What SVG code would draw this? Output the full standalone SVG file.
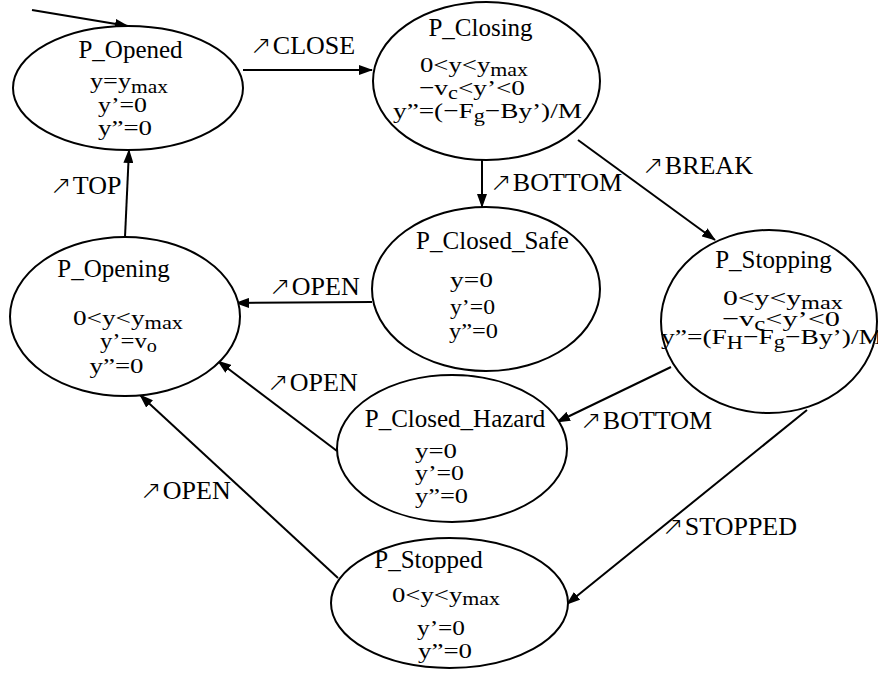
<svg xmlns="http://www.w3.org/2000/svg" width="878" height="673" viewBox="0 0 878 673">
<style>
text { font-family: "Liberation Serif", "Times New Roman", serif; fill: #000; }
.t { font-size: 25px; text-anchor: middle; }
.m { font-size: 22px; text-anchor: middle; }
.s { font-size: 18px; }
.lbl { font-size: 26px; }
.ar { font-family: "DejaVu Sans", sans-serif; font-size: 26px; font-weight: 200; }
ellipse { fill: #fff; stroke: #000; stroke-width: 2; }
#edges line { stroke: #000; stroke-width: 2; marker-end: url(#ah); }
</style>
<defs>
<marker id="ah" viewBox="0 0 14 10" refX="13" refY="5" markerWidth="14" markerHeight="10" markerUnits="userSpaceOnUse" orient="auto">
<path d="M0,0 L14,5 L0,10 z" fill="#000"/>
</marker>
</defs>
<rect width="878" height="673" fill="#fff"/>

<g id="edges">
<line x1="32" y1="10" x2="128" y2="26"/>
<line x1="243" y1="70" x2="372" y2="70"/>
<line x1="482" y1="160" x2="482" y2="207"/>
<line x1="578" y1="140" x2="715" y2="240"/>
<line x1="372" y1="302" x2="236" y2="303"/>
<line x1="125" y1="237" x2="129" y2="150"/>
<line x1="337" y1="451" x2="218" y2="361"/>
<line x1="338" y1="578" x2="140" y2="395"/>
<line x1="671" y1="367" x2="557" y2="422"/>
<line x1="807" y1="410" x2="567" y2="604"/>
<text class="lbl" x="250" y="54"><tspan class="ar">↗</tspan><tspan dx="1">CLOSE</tspan></text>
<text class="lbl" x="490" y="191"><tspan class="ar">↗</tspan><tspan dx="1">BOTTOM</tspan></text>
<text class="lbl" x="642" y="174"><tspan class="ar">↗</tspan><tspan dx="1">BREAK</tspan></text>
<text class="lbl" x="269" y="295"><tspan class="ar">↗</tspan><tspan dx="1">OPEN</tspan></text>
<text class="lbl" x="50" y="194"><tspan class="ar">↗</tspan><tspan dx="1">TOP</tspan></text>
<text class="lbl" x="267" y="391"><tspan class="ar">↗</tspan><tspan dx="1">OPEN</tspan></text>
<text class="lbl" x="140" y="499"><tspan class="ar">↗</tspan><tspan dx="1">OPEN</tspan></text>
<text class="lbl" x="580" y="429"><tspan class="ar">↗</tspan><tspan dx="1">BOTTOM</tspan></text>
<text class="lbl" x="662" y="535"><tspan class="ar">↗</tspan><tspan dx="1">STOPPED</tspan></text>
</g>

<g id="P_Opened">
<ellipse cx="128" cy="88" rx="115" ry="62"/>
<text class="t" x="130.5" y="58">P_Opened</text>
<text class="m" x="129" y="88" textLength="78" lengthAdjust="spacingAndGlyphs">y=y<tspan class="s" dy="5">max</tspan></text>
<text class="m" x="122.5" y="112" textLength="49" lengthAdjust="spacingAndGlyphs">y’=0</text>
<text class="m" x="125" y="135" textLength="54" lengthAdjust="spacingAndGlyphs">y”=0</text>
</g>

<g id="P_Closing">
<ellipse cx="486.5" cy="81" rx="113.5" ry="79"/>
<text class="t" x="480.5" y="36">P_Closing</text>
<text class="m" x="474" y="72" textLength="108" lengthAdjust="spacingAndGlyphs">0&lt;y&lt;y<tspan class="s" dy="4">max</tspan></text>
<text class="m" x="472" y="95" textLength="106" lengthAdjust="spacingAndGlyphs">−v<tspan class="s" dy="4">c</tspan><tspan dy="-4">&lt;y’&lt;0</tspan></text>
<text class="m" x="487.5" y="118" textLength="189" lengthAdjust="spacingAndGlyphs">y”=(−F<tspan class="s" dy="4">g</tspan><tspan dy="-4">−By’)/M</tspan></text>
</g>

<g id="P_Closed_Safe">
<ellipse cx="486" cy="289" rx="114" ry="82"/>
<text class="t" x="492.5" y="249">P_Closed_Safe</text>
<text class="m" x="471.5" y="287" textLength="43" lengthAdjust="spacingAndGlyphs">y=0</text>
<text class="m" x="472.5" y="314" textLength="45" lengthAdjust="spacingAndGlyphs">y’=0</text>
<text class="m" x="473.5" y="338" textLength="49" lengthAdjust="spacingAndGlyphs">y”=0</text>
</g>

<g id="P_Opening">
<ellipse cx="125" cy="316.5" rx="115" ry="79.5"/>
<text class="t" x="113.5" y="277">P_Opening</text>
<text class="m" x="128" y="325" textLength="110" lengthAdjust="spacingAndGlyphs">0&lt;y&lt;y<tspan class="s" dy="4">max</tspan></text>
<text class="m" x="128.5" y="348" textLength="57" lengthAdjust="spacingAndGlyphs">y’=v<tspan class="s" dy="4">o</tspan></text>
<text class="m" x="116.5" y="373" textLength="54" lengthAdjust="spacingAndGlyphs">y”=0</text>
</g>

<g id="P_Stopping">
<ellipse cx="769" cy="321.5" rx="108" ry="91.5"/>
<text class="t" x="773.5" y="268">P_Stopping</text>
<text class="m" x="783" y="305" textLength="120" lengthAdjust="spacingAndGlyphs">0&lt;y&lt;y<tspan class="s" dy="4">max</tspan></text>
<text class="m" x="781" y="326" textLength="118" lengthAdjust="spacingAndGlyphs">−v<tspan class="s" dy="4">c</tspan><tspan dy="-4">&lt;y’&lt;0</tspan></text>
<text class="m" x="772" y="344" textLength="222" lengthAdjust="spacingAndGlyphs">y”=(F<tspan class="s" dy="5">H</tspan><tspan dy="-5">−F</tspan><tspan class="s" dy="4">g</tspan><tspan dy="-4">−By’)/M</tspan></text>
</g>

<g id="P_Closed_Hazard">
<ellipse cx="452" cy="448.5" rx="115" ry="73.5"/>
<text class="t" x="455" y="427">P_Closed_Hazard</text>
<text class="m" x="436" y="458" textLength="42" lengthAdjust="spacingAndGlyphs">y=0</text>
<text class="m" x="439.5" y="480" textLength="49" lengthAdjust="spacingAndGlyphs">y’=0</text>
<text class="m" x="441.5" y="503" textLength="53" lengthAdjust="spacingAndGlyphs">y”=0</text>
</g>

<g id="P_Stopped">
<ellipse cx="449.5" cy="603" rx="118.5" ry="65"/>
<text class="t" x="428.5" y="568">P_Stopped</text>
<text class="m" x="446" y="602" textLength="108" lengthAdjust="spacingAndGlyphs">0&lt;y&lt;y<tspan class="s" dy="3">max</tspan></text>
<text class="m" x="441" y="635" textLength="48" lengthAdjust="spacingAndGlyphs">y’=0</text>
<text class="m" x="445" y="658" textLength="54" lengthAdjust="spacingAndGlyphs">y”=0</text>
</g>
</svg>
